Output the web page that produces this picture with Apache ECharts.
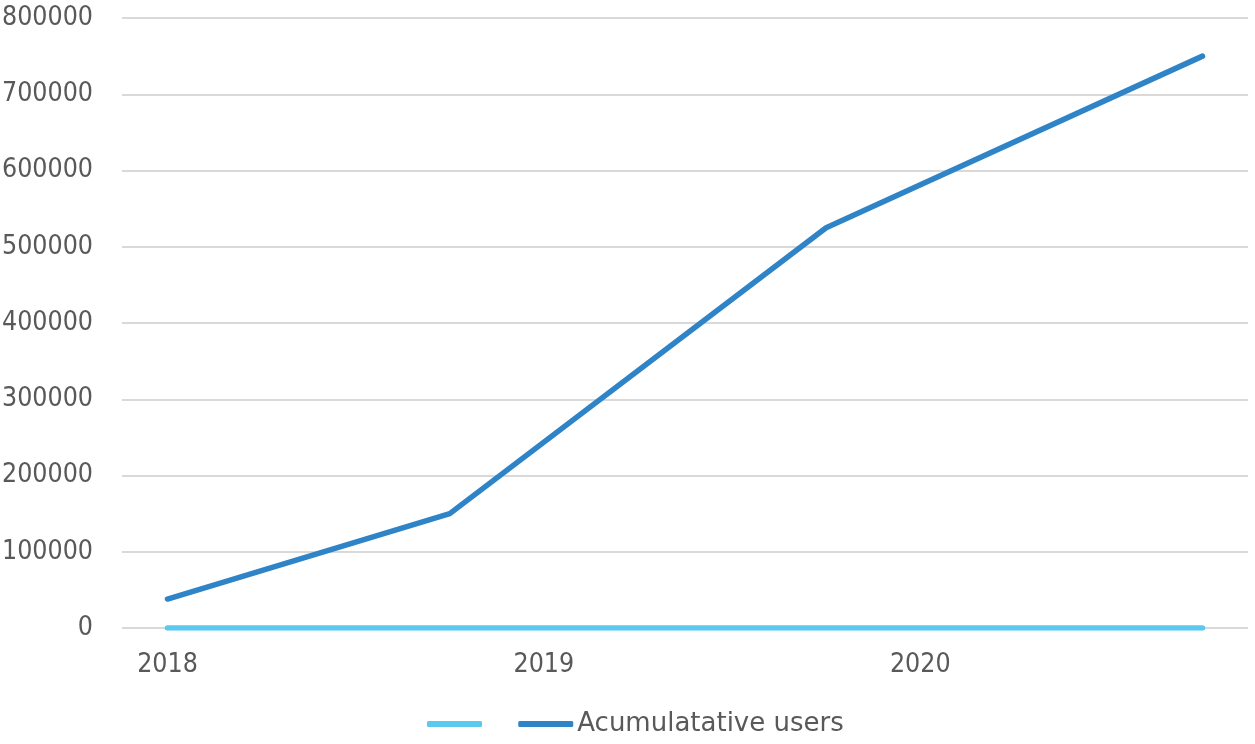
<!DOCTYPE html>
<html>
<head>
<meta charset="utf-8">
<script src="https://cdn.jsdelivr.net/npm/echarts@6/dist/echarts.min.js"></script>
<style>
  html, body { margin: 0; padding: 0; background: #ffffff; }
  #chart { width: 1255px; height: 744px; }
</style>
</head>
<body>
<div id="chart"></div>
<script>
// Months counted from January 2018
const months = [0, 9, 21, 33];
const users = [38000, 150000, 525000, 750000];
const baseline = [0, 0, 0, 0];
const yearTicks = [0, 12, 24];
const yearLabels = ['2018', '2019', '2020'];
const seriesNames = [' ', 'Acumulatative users'];

const AXIS_FONT = '"DejaVu Sans Condensed", "DejaVu Sans", sans-serif';
const LEGEND_FONT = '"DejaVu Sans", sans-serif';
const TEXT = '#595959';

const chart = echarts.init(document.getElementById('chart'), null, { renderer: 'canvas' });

chart.setOption({
  animation: false,
  backgroundColor: '#ffffff',
  grid: { left: 122, right: 7, top: 18, bottom: 116, containLabel: false, outerBoundsMode: 'none' },
  xAxis: {
    type: 'value',
    min: -1.45,
    max: 34.45,
    axisLine: { show: false },
    axisTick: { show: false },
    splitLine: { show: false },
    axisLabel: {
      customValues: yearTicks,
      formatter: v => yearLabels[yearTicks.indexOf(v)],
      color: TEXT,
      fontFamily: AXIS_FONT,
      fontSize: 26.5,
      margin: 24
    }
  },
  yAxis: {
    type: 'value',
    min: 0,
    max: 800000,
    interval: 100000,
    axisLine: { show: false },
    axisTick: { show: false },
    splitLine: { lineStyle: { color: '#d9d9d9', width: 2 } },
    axisLabel: {
      formatter: v => String(v),
      color: TEXT,
      fontFamily: AXIS_FONT,
      fontSize: 26.5,
      margin: 29
    }
  },
  legend: {
    top: 706,
    left: 422,
    itemWidth: 55,
    itemHeight: 6,
    itemGap: 24,
    icon: 'roundRect',
    textStyle: { color: TEXT, fontFamily: LEGEND_FONT, fontSize: 26, padding: [0, 0, 0, -1] },
    data: seriesNames
  },
  series: [
    {
      name: seriesNames[0],
      type: 'line',
      data: months.map((m, i) => [m, baseline[i]]),
      showSymbol: false,
      lineStyle: { color: '#5bc9ee', width: 5.5, cap: 'round' },
      itemStyle: { color: '#5bc9ee' },
      z: 3
    },
    {
      name: seriesNames[1],
      type: 'line',
      data: months.map((m, i) => [m, users[i]]),
      showSymbol: false,
      lineStyle: { color: '#2e84c6', width: 5.5, cap: 'round', join: 'round' },
      itemStyle: { color: '#2e84c6' },
      z: 4
    }
  ]
});
</script>
</body>
</html>
